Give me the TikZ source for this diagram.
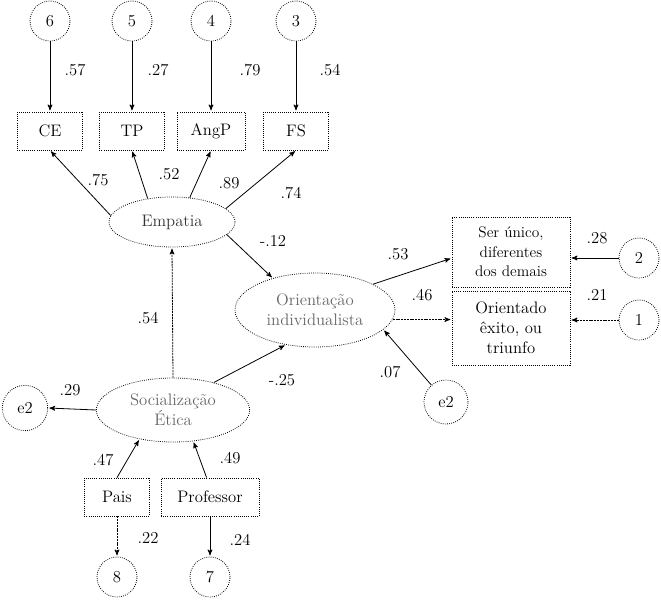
\documentclass[tikz,border=0pt]{standalone}
\usepackage{tikz}
\usetikzlibrary{arrows}
\usetikzlibrary{positioning}
\usetikzlibrary{shapes.geometric}
\tikzset{
    errvar/.style={circle,draw,densely dotted,minimum size=30pt,inner sep=0pt},
    obsvar/.style={rectangle,draw,densely dotted,minimum width=49pt,minimum height=28.5pt,inner sep=1pt,align=center},
    latvar/.style={ellipse,draw,densely dotted,inner sep=0pt,text=black!60,align=center},
    coef/.style={inner sep=0pt},
    dotline/.style={dash pattern=on 1.5pt off 0.6pt},
  }
\newcommand{\empName}{Empatia}

\begin{document}
\begin{tikzpicture}[x=0.75pt,y=-0.75pt,->,>=stealth',shorten >=1pt,auto,semithick,font=\fontsize{12.5}{15}\selectfont]
  \useasboundingbox (0,0) rectangle (661,600);
  % indicadores da empatia
  \node[obsvar] (CE) at (50,131) {CE};
  \node[obsvar] (TP) at (132,131) {TP};
  \node[obsvar, minimum width=51pt] (AngP) at (211,131) {AngP};
  \node[obsvar] (FS) at (296,131) {FS};
  \node[errvar] (E6) [above of=CE, node distance=82.5pt] {6};
  \node[errvar] (E5) [above of=TP, node distance=82.5pt] {5};
  \node[errvar] (E4) [above of=AngP, node distance=82.5pt] {4};
  \node[errvar] (E3) [above of=FS, node distance=82.5pt] {3};

  \node[latvar, minimum width=94.5pt, minimum height=37.5pt, text=black!80] (Emp) at (172,222) {\empName};
  \node[latvar, minimum width=120pt, minimum height=55.5pt] (Ori) at (315,310) {Orienta\c{c}\~ao\\individualista};
  \node[latvar, minimum width=115pt, minimum height=48pt] (Soc) at (173,410) {Socializa\c{c}\~ao\\\'Etica};

  \node[obsvar, minimum width=88.5pt, minimum height=52.5pt, font=\fontsize{11.5}{14.5}\selectfont] (Ser) at (511,252) {Ser \'unico,\\diferentes\\dos demais};
  \node[obsvar, minimum width=88.5pt, minimum height=55.5pt] (Oex) at (511,328) {Orientado\\\^exito, ou\\triunfo};
  \node[errvar] (E2) at (639,258) {2};
  \node[errvar] (E1) at (639,320) {1};
  \node[errvar, minimum size=33pt] (EO) at (446,402) {e2};
  \node[errvar, minimum size=34pt] (ES) at (25,408) {e2};

  \node[obsvar] (Pais) at (117,497) {Pais};
  \node[obsvar, minimum width=73.5pt] (Prof) at (210,497) {Professor};
  \node[errvar] (E8) [below of=Pais, node distance=60pt] {8};
  \node[errvar] (E7) [below of=Prof, node distance=60pt] {7};

  \path (E6) edge (CE)
  (E5) edge (TP)
  (E4) edge (AngP)
  (E3) edge (FS)
  (Emp.174) edge (CE.south)
  (Emp.136) edge (TP.south)
  (Emp.54) edge (AngP.south)
  (Emp.14) edge (FS.south)
  (Emp.347) edge (Ori.143)
  (Soc.north) edge[dotline] (Emp.south)
  (Soc.34) edge (Ori.230)
  (Soc.west) edge (ES.east)
  (Ori.24) edge (Ser.186)
  (Ori.-7) edge[dotline] (Ori.-7 -| Oex.west)
  (E2.west) edge (E2.west -| Ser.east)
  (E1.west) edge[dotline] (E1.west -| Oex.east)
  (EO) edge (Ori.344)
  (Pais.north) edge (Soc.221)
  (Prof.100) edge (Soc.303)
  (Pais) edge[dotline] (E8)
  (Prof) edge (E7);

  % coeficientes
  \node[coef] (c57) at (75,70) {.57};
  \node[coef] (c27) at (158,70) {.27};
  \node[coef] (c79) at (250,70) {.79};
  \node[coef] (c54a) at (330,70) {.54};
  \node[coef] (c75) at (98,180) {.75};
  \node[coef] (c52) at (169,174) {.52};
  \node[coef] (c89) at (229,183) {.89};
  \node[coef] (c74) at (291,193) {.74};
  \node[coef] (c12) at (273,241) {-.12};
  \node[coef] (c53) at (398,254) {.53};
  \node[coef] (c46) at (422,295) {.46};
  \node[coef] (c28) at (597,238) {.28};
  \node[coef] (c21) at (597,295) {.21};
  \node[coef] (c07) at (390,372) {.07};
  \node[coef] (c25) at (282,380) {-.25};
  \node[coef] (c54b) at (148,318) {.54};
  \node[coef] (c29) at (70,390) {.29};
  \node[coef] (c47) at (103,460) {.47};
  \node[coef] (c49) at (230,458) {.49};
  \node[coef] (c22) at (148,538) {.22};
  \node[coef] (c24) at (240,540) {.24};
\end{tikzpicture}
\end{document}
